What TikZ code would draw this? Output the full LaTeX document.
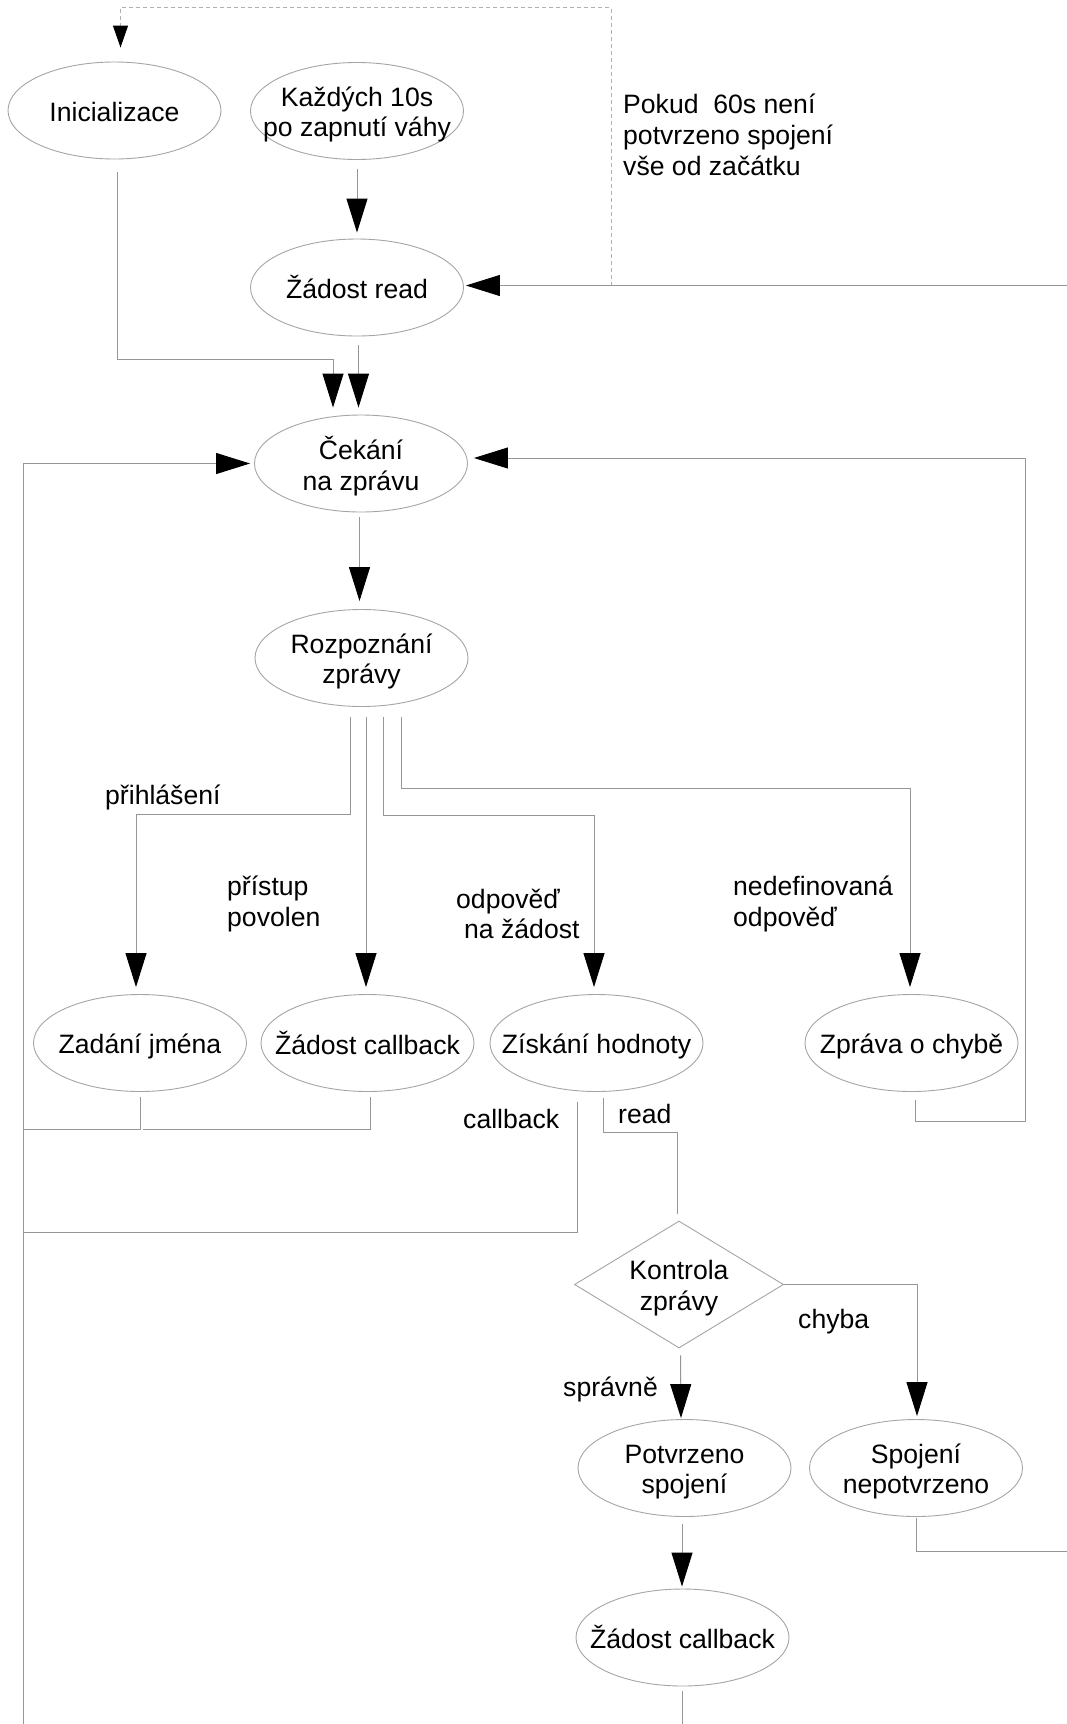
\documentclass[tikz,border=0pt]{standalone}
\usepackage{fontspec}
\setmainfont{Liberation Sans}
\usetikzlibrary{shapes.geometric,arrows.meta}

\definecolor{linegray}{RGB}{150,150,150}
\definecolor{shapegray}{RGB}{165,165,165}
\definecolor{dashgray}{RGB}{175,175,175}

% centred text that does not enlarge the shape around it
\newcommand{\eltext}[1]{\makebox[0pt]{\raisebox{-10.6pt}[0pt][0pt]{\begin{tabular}{@{}c@{}}#1\end{tabular}}}}

\begin{document}
\begin{tikzpicture}[x=1pt,y=-1pt,
  font=\fontsize{26.6}{30.8}\selectfont,
  state/.style={ellipse, draw=shapegray, line width=0.9pt, minimum width=213pt, minimum height=97pt, inner sep=0pt},
  decision/.style={diamond, draw=shapegray, line width=0.9pt, minimum width=209pt, minimum height=127pt, inner sep=0pt},
  conn/.style={draw=linegray, line width=1pt},
  flow/.style={conn, -{Triangle[length=34pt,width=21pt,color=black,fill=black]}},
  dashline/.style={draw=dashgray, line width=1pt, dash pattern=on 4pt off 3pt},
  smallflow/.style={-{Triangle[length=22pt,width=15pt,color=black,fill=black]}},
  lbl/.style={inner sep=0pt, anchor=west, align=left},
]
\fill[white] (0,0) rectangle (1067,1724);
\useasboundingbox (0,0) rectangle (1067,1724);

% states
\node[state] (ini) at (114.5,110.5) {\eltext{Inicializace}};
\node[state] (kazdych) at (357,111) {\eltext{Každých 10s\\po zapnutí váhy}};
\node[state] (zread) at (357,287.5) {\eltext{Žádost read}};
\node[state] (cekani) at (361,463.5) {\eltext{Čekání\\na zprávu}};
\node[state] (rozp) at (361.5,658) {\eltext{Rozpoznání\\zprávy}};
\node[state] (zadani) at (140,1043) {\eltext{Zadání jména}};
\node[state] (zcb1) at (367.5,1043) {\eltext{Žádost callback}};
\node[state] (ziskani) at (596.5,1043) {\eltext{Získání hodnoty}};
\node[state] (zprava) at (911.5,1043) {\eltext{Zpráva o chybě}};
\node[decision] (kontrola) at (679,1284.5) {\eltext{Kontrola\\zprávy}};
\node[state] (potv) at (684.5,1468) {\eltext{Potvrzeno\\spojení}};
\node[state] (spoj) at (916,1468) {\eltext{Spojení\\nepotvrzeno}};
\node[state] (zcb2) at (682.5,1637.5) {\eltext{Žádost callback}};

% labels
\node[lbl] (lpokud) at (623,135) {Pokud\ \ 60s není\\potvrzeno spojení\\vše od začátku};
\node[lbl] (lprihl) at (105,797) {přihlášení};
\node[lbl] (lpristup) at (227,904) {přístup\\povolen};
\node[lbl] (lodp) at (456,914) {odpověď\\\hspace*{8pt}na žádost};
\node[lbl] (lnedef) at (733,904) {nedefinovaná\\odpověď};
\node[lbl] (lcb) at (463,1119) {callback};
\node[lbl] (lread) at (618,1114) {read};
\node[lbl] (lchyba) at (798,1322) {chyba};
\node[lbl] (lspr) at (563,1389) {správně};

% bends and open ends of connectors
\coordinate (redgeA) at (1067,285.5);
\coordinate (dashfoot) at (611,285.5);
\coordinate (dashtop) at (611,7.5);
\coordinate (iniBend) at (117.7,359);
\coordinate (leftFoot) at (23.5,1724);
\coordinate (rightLow) at (1025,1121);
\coordinate (rightHigh) at (1025,458);
\coordinate (splitA) at (350,814);
\coordinate (splitC) at (383,815);
\coordinate (splitD) at (401,788);
\coordinate (rowJoin) at (23.5,1129);
\coordinate (rowGap) at (143,1129);
\coordinate (cbJoin) at (23.5,1232);
\coordinate (readBend) at (603,1132);
\coordinate (redgeB) at (1067,1551);
\coordinate (bottomOut) at (682,1724);

% timeout restart
\draw[dashline, smallflow, shorten >=14pt] (dashfoot) -- (dashtop) -| ([xshift=6pt]ini.north);

% connectors
\draw[flow, shorten >=2pt] (redgeA) -- (zread.east |- redgeA);
\draw[flow, shorten <=9pt, shorten >=6pt] (kazdych.south) -- (zread.north);
\draw[flow, shorten <=13pt, shorten >=7pt] ([xshift=3.2pt]ini.south) -- (iniBend) -| ([xshift=-28pt]cekani.north);
\draw[flow, shorten <=9pt, shorten >=7pt] ([xshift=1.5pt]zread.south) -- ([xshift=-2.5pt]cekani.north);
\draw[flow, shorten >=4pt] (leftFoot) |- (cekani.west);
\draw[flow, shorten <=8pt, shorten >=6pt] ([xshift=3.5pt]zprava.south) |- (rightLow) -- (rightHigh) -- (cekani.east |- rightHigh);
\draw[flow, shorten <=5pt, shorten >=8pt] ([xshift=-1.5pt]cekani.south) -- ([xshift=-2pt]rozp.north);

\draw[flow, shorten <=10pt, shorten >=7pt] ([xshift=-11.5pt]rozp.south) -- (splitA) -| ([xshift=-4pt]zadani.north);
\draw[flow, shorten <=10pt, shorten >=7pt] ([xshift=4.5pt]rozp.south) -- ([xshift=-1.5pt]zcb1.north);
\draw[flow, shorten <=10pt, shorten >=7pt] ([xshift=21.5pt]rozp.south) -- (splitC) -| ([xshift=-2.5pt]ziskani.north);
\draw[flow, shorten <=10pt, shorten >=7pt] ([xshift=39.5pt]rozp.south) -- (splitD) -| ([xshift=-1.5pt]zprava.north);

\draw[conn, shorten <=5pt] (zadani.south) |- (rowJoin);
\draw[conn, shorten <=5pt] ([xshift=2.5pt]zcb1.south) |- (rowGap);
\draw[conn, shorten <=10pt] ([xshift=-19pt]ziskani.south) |- (cbJoin);
\draw[conn, shorten <=6pt, shorten >=7pt] ([xshift=6.5pt]ziskani.south) -- (readBend) -| ([xshift=-2pt]kontrola.north);

\draw[flow, shorten >=3pt] (kontrola.east) -| ([xshift=1pt]spoj.north);
\draw[flow, shorten <=7pt, shorten >=1pt] ([xshift=1.5pt]kontrola.south) -- ([xshift=-3.5pt]potv.north);
\draw[conn, shorten <=1pt] (spoj.south) |- (redgeB);
\draw[flow, shorten <=7pt, shorten >=2pt] ([xshift=-2.5pt]potv.south) -- ([xshift=-0.5pt]zcb2.north);
\draw[conn, shorten <=5pt] ([xshift=-0.5pt]zcb2.south) -- (bottomOut);
\end{tikzpicture}
\end{document}
